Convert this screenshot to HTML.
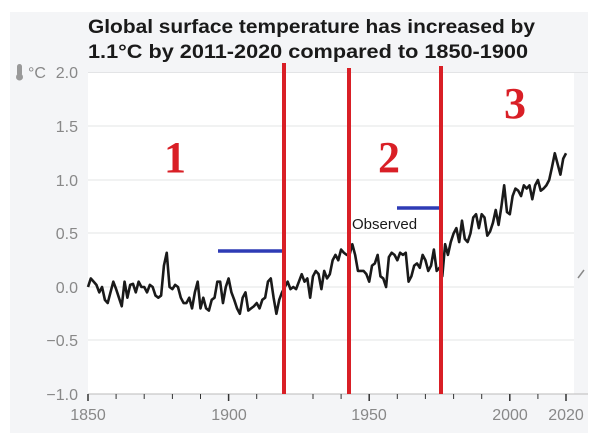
<!DOCTYPE html>
<html><head><style>body{margin:0;background:#fff}svg{display:block}</style></head><body>
<svg width="600" height="447" viewBox="0 0 600 447" xmlns="http://www.w3.org/2000/svg">
<rect x="10" y="12" width="578" height="421" fill="#f4f5f7"/>
<rect x="88" y="72" width="486" height="322" fill="#fff"/>
<g font-family="Liberation Sans, sans-serif" font-weight="bold" font-size="19" fill="#1a1a1a">
<text x="88" y="33" textLength="447" lengthAdjust="spacingAndGlyphs">Global surface temperature has increased by</text>
<text x="88" y="58" textLength="440" lengthAdjust="spacingAndGlyphs">1.1°C by 2011-2020 compared to 1850-1900</text>
</g>
<g stroke="#e3e4e6" stroke-width="1">
<line x1="88" y1="72.5" x2="588" y2="72.5"/><line x1="88" y1="126" x2="574" y2="126"/><line x1="88" y1="180" x2="574" y2="180"/><line x1="88" y1="233" x2="574" y2="233"/><line x1="88" y1="287" x2="574" y2="287"/><line x1="88" y1="340" x2="574" y2="340"/>
</g>
<line x1="88" y1="394" x2="588" y2="394" stroke="#bbb" stroke-width="1"/>
<g stroke="#333" stroke-width="1">
<line x1="88" y1="394" x2="88" y2="401" stroke-width="1.5"/><line x1="116.1" y1="394" x2="116.1" y2="399"/><line x1="144.2" y1="394" x2="144.2" y2="399"/><line x1="172.4" y1="394" x2="172.4" y2="399"/><line x1="200.5" y1="394" x2="200.5" y2="399"/><line x1="228.6" y1="394" x2="228.6" y2="401" stroke-width="1.5"/><line x1="256.7" y1="394" x2="256.7" y2="399"/><line x1="313" y1="394" x2="313" y2="399"/><line x1="341.1" y1="394" x2="341.1" y2="399"/><line x1="369.2" y1="394" x2="369.2" y2="401" stroke-width="1.5"/><line x1="397.3" y1="394" x2="397.3" y2="399"/><line x1="425.4" y1="394" x2="425.4" y2="399"/><line x1="453.6" y1="394" x2="453.6" y2="399"/><line x1="481.7" y1="394" x2="481.7" y2="399"/><line x1="509.8" y1="394" x2="509.8" y2="401" stroke-width="1.5"/><line x1="537.9" y1="394" x2="537.9" y2="399"/><line x1="566" y1="394" x2="566" y2="401" stroke-width="1.5"/>
</g>
<g font-family="Liberation Sans, sans-serif" font-size="16" fill="#888" text-anchor="end">
<text x="78" y="78">2.0</text><text x="78" y="132">1.5</text><text x="78" y="186">1.0</text><text x="78" y="239">0.5</text><text x="78" y="293">0.0</text><text x="78" y="346">−0.5</text><text x="78" y="400">−1.0</text>
<text x="37" y="78" text-anchor="middle">°C</text>
</g>
<rect x="17" y="64" width="5" height="12" rx="2.5" fill="#999"/><circle cx="19.5" cy="77" r="3.5" fill="#999"/>
<g font-family="Liberation Sans, sans-serif" font-size="16" fill="#888" text-anchor="middle">
<text x="88" y="420">1850</text><text x="229" y="420">1900</text><text x="369" y="420">1950</text><text x="510" y="420">2000</text><text x="566" y="420">2020</text>
</g>
<g transform="translate(88,287) scale(2.812,-107)">
<polyline fill="none" stroke="#1a1a1a" stroke-width="2.6" stroke-linejoin="round" vector-effect="non-scaling-stroke" points="0,0.0 1,0.08 2,0.05 3,0.02 4,-0.05 5,0.0 6,-0.12 7,-0.15 8,-0.05 9,0.05 10,-0.02 11,-0.1 12,-0.18 13,0.05 14,-0.1 15,0.02 16,0.03 17,-0.05 18,0.05 19,0.0 20,0.0 21,-0.05 22,0.02 23,0.0 24,-0.08 25,-0.1 26,-0.08 27,0.2 28,0.32 29,0.0 30,-0.02 31,0.02 32,0.0 33,-0.1 34,-0.15 35,-0.15 36,-0.1 37,-0.2 38,-0.05 39,0.05 40,-0.2 41,-0.1 42,-0.2 43,-0.22 44,-0.12 45,-0.1 46,0.05 47,0.05 48,-0.15 49,0.0 50,0.08 51,-0.05 52,-0.12 53,-0.2 54,-0.25 55,-0.1 56,-0.05 57,-0.22 58,-0.2 59,-0.18 60,-0.15 61,-0.2 62,-0.12 63,-0.1 64,0.05 65,0.08 66,-0.1 67,-0.25 68,-0.12 69,-0.05 70,0.0 71,0.05 72,-0.02 73,0.0 74,-0.02 75,0.05 76,0.12 77,0.05 78,0.08 79,-0.1 80,0.1 81,0.15 82,0.12 83,-0.02 84,0.15 85,0.08 86,0.12 87,0.25 88,0.3 89,0.25 90,0.35 91,0.32 92,0.3 93,0.3 94,0.4 95,0.3 96,0.15 97,0.15 98,0.15 99,0.12 100,0.05 101,0.2 102,0.22 103,0.3 104,0.1 105,0.08 106,0.0 107,0.28 108,0.32 109,0.3 110,0.25 111,0.32 112,0.3 113,0.32 114,0.05 115,0.1 116,0.2 117,0.22 118,0.18 119,0.3 120,0.25 121,0.15 122,0.2 123,0.35 124,0.15 125,0.18 126,0.1 127,0.4 128,0.3 129,0.42 130,0.5 131,0.55 132,0.42 133,0.62 134,0.45 135,0.42 136,0.5 137,0.65 138,0.68 139,0.55 140,0.68 141,0.65 142,0.48 143,0.52 144,0.6 145,0.72 146,0.58 147,0.75 148,0.95 149,0.7 150,0.68 151,0.85 152,0.92 153,0.9 154,0.85 155,0.95 156,0.92 157,0.95 158,0.82 159,0.95 160,1.0 161,0.9 162,0.92 163,0.95 164,1.0 165,1.12 166,1.25 167,1.15 168,1.05 169,1.2 170,1.25"/>
</g>
<g stroke="#2e3bb5" stroke-width="3.5"><line x1="218" y1="251" x2="284" y2="251"/><line x1="397" y1="208" x2="441" y2="208"/></g>
<g stroke="#d91f26" stroke-width="4"><line x1="284" y1="63" x2="284" y2="394"/><line x1="349" y1="68" x2="349" y2="394"/><line x1="441" y1="66" x2="441" y2="394"/></g>
<text x="352" y="229" font-family="Liberation Sans, sans-serif" font-size="15" fill="#1a1a1a">Observed</text>
<g font-family="Liberation Serif, serif" font-weight="bold" font-size="44" fill="#d91f26" text-anchor="middle">
<text x="175" y="172">1</text><text x="389" y="172">2</text><text x="515" y="118">3</text>
</g>
<path d="M578 278 l6 -8" stroke="#888" stroke-width="1.5"/>
</svg>
</body></html>
